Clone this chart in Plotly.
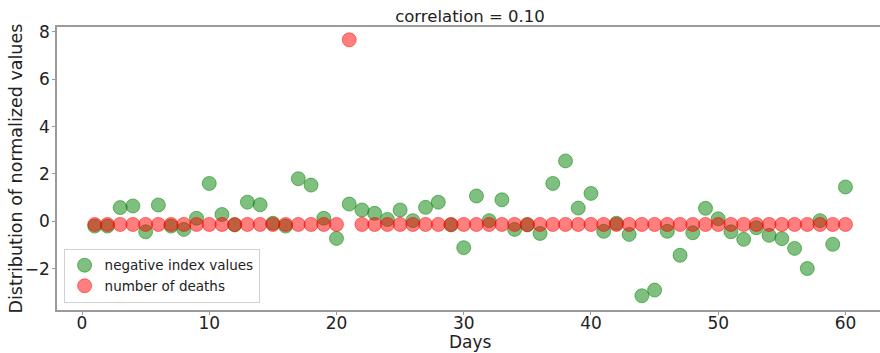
import plotly.graph_objects as go

days = list(range(1, 61))
negative_index_values = [
    -0.20, -0.20, 0.58, 0.65, -0.44, 0.69, -0.20, -0.34, 0.13, 1.60,
    0.29, -0.15, 0.81, 0.70, -0.08, -0.20, 1.80, 1.53, 0.13, -0.72,
    0.73, 0.48, 0.34, 0.08, 0.48, 0.03, 0.59, 0.81, -0.15, -1.11,
    1.07, 0.03, 0.91, -0.34, -0.15, -0.51, 1.60, 2.55, 0.56, 1.18,
    -0.42, -0.08, -0.55, -3.14, -2.90, -0.42, -1.43, -0.48, 0.55, 0.11,
    -0.44, -0.76, -0.27, -0.59, -0.73, -1.14, -1.99, 0.03, -0.97, 1.45,
]
number_of_deaths = [-0.13] * 20 + [7.66] + [-0.13] * 39
correlation = 0.10

green = "rgba(0,128,0,0.5)"
red = "rgba(255,0,0,0.5)"

fig = go.Figure()
fig.add_trace(go.Scatter(
    x=days, y=negative_index_values, mode="markers", name="negative index values",
    marker=dict(size=14, color=green, line=dict(color=green, width=1)),
))
fig.add_trace(go.Scatter(
    x=days, y=number_of_deaths, mode="markers", name="number of deaths",
    marker=dict(size=14, color=red, line=dict(color=red, width=1)),
))

axis_common = dict(
    showgrid=False, zeroline=False, showline=True, linecolor="#9a9a9a", linewidth=1.5,
    ticks="outside", ticklen=3, tickcolor="#9a9a9a", automargin=False,
    tickfont=dict(family="DejaVu Sans", size=17, color="#222"),
)

W = 883
fig.update_layout(
    width=W, height=353,
    margin=dict(l=57, r=0, t=27, b=43),
    paper_bgcolor="white", plot_bgcolor="white",
    title=dict(text=f"correlation = {correlation:.2f}", x=0.5, xref="paper", xanchor="center",
               y=1 - 16 / 353, yref="container", yanchor="middle",
               font=dict(family="DejaVu Sans", size=16.5, color="#222")),
    font=dict(family="DejaVu Sans", color="#222"),
    xaxis=dict(range=[-1.965, 62.95], tickvals=[0, 10, 20, 30, 40, 50, 60], mirror=True,
               ticklabelstandoff=-6, **axis_common),
    yaxis=dict(range=[-3.74, 8.2], tickvals=[-2, 0, 2, 4, 6, 8],
               ticktext=["\u22122", "0", "2", "4", "6", "8"],
               ticklabelstandoff=-1, **axis_common),
    annotations=[
        dict(text="Days", xref="paper", yref="paper", x=0.5, y=-(342 - 310) / 283,
             xanchor="center", yanchor="middle", showarrow=False,
             font=dict(family="DejaVu Sans", size=17, color="#222")),
        dict(text="Distribution of normalized values", xref="paper", yref="paper",
             x=-(57 - 15) / (W - 57), y=0.5, xanchor="center", yanchor="middle", textangle=-90,
             showarrow=False, font=dict(family="DejaVu Sans", size=17.5, color="#222")),
    ],
    legend=dict(x=0.008, y=0.025, xanchor="left", yanchor="bottom",
                bgcolor="rgba(255,255,255,0.8)", bordercolor="#d0d0d0", borderwidth=1,
                font=dict(family="DejaVu Sans", size=13.5, color="#222"),
                tracegroupgap=0, itemwidth=30),
    showlegend=True,
)

fig.write_html("out.html", config={"displayModeBar": False},
               post_script="document.body.style.margin='0';document.body.style.overflow='hidden';")
